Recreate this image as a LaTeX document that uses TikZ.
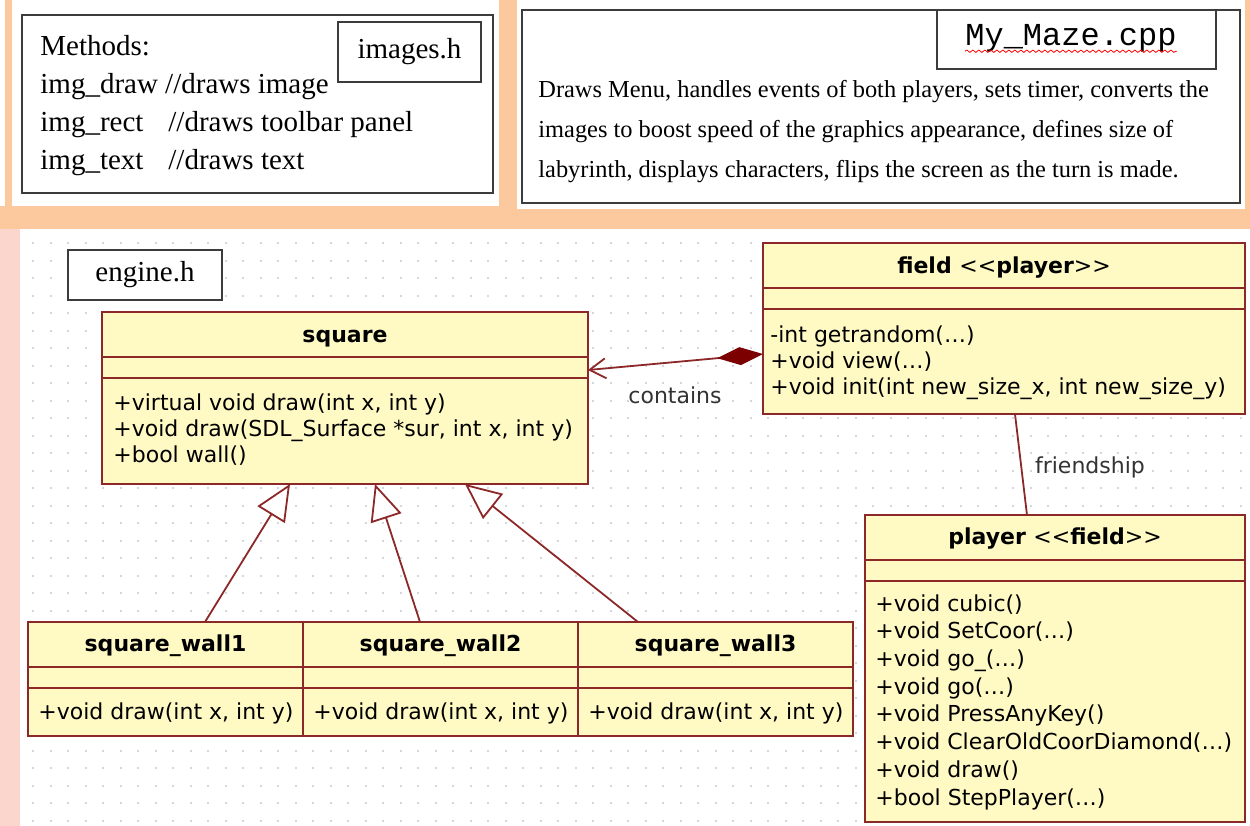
\documentclass[tikz,border=0pt]{standalone}
\usepackage{fontspec}
\setmainfont{Liberation Serif}
\newfontfamily\umlfont{DejaVu Sans}
\newfontfamily\monofont{Liberation Mono}
\usetikzlibrary{positioning,arrows.meta,decorations.pathmorphing}

\definecolor{peach}{RGB}{252,201,158}
\definecolor{pinkstrip}{RGB}{250,214,204}
\definecolor{umlfill}{RGB}{255,250,196}
\definecolor{umledge}{RGB}{140,40,40}
\definecolor{aggrred}{RGB}{125,0,0}
\definecolor{griddot}{RGB}{212,215,222}
\definecolor{panelline}{RGB}{60,60,60}

\tikzset{
  panel/.style={draw=panelline, line width=1.3pt, inner sep=0},
  filebox/.style={draw=panelline, fill=white, line width=1pt, font=\fontsize{14.5}{17}\selectfont},
  umlclass/.style={draw=umledge, fill=umlfill, line width=0.9pt, inner sep=0, outer sep=0},
  umlsep/.style={draw=umledge, line width=0.9pt},
  umltitle/.style={font=\umlfont\bfseries\fontsize{11}{13}\selectfont, inner sep=0},
  umlops/.style={font=\umlfont\fontsize{11}{13.2}\selectfont, align=left, inner sep=0, anchor=north west},
  lbl/.style={font=\umlfont\fontsize{11}{13}\selectfont, text=black!80},
  inherit/.style={draw=umledge, line width=0.9pt, -{Triangle[open, fill=white, length=18pt, width=16pt]}},
  aggr/.style={draw=umledge, line width=0.9pt, {Diamond[fill=aggrred, color=aggrred, length=23pt, width=9pt]}-{Straight Barb[length=8pt, width=10pt]}},
  assoc/.style={draw=umledge, line width=0.9pt},
  squiggle/.style={draw=red, line width=0.4pt, decorate, decoration={snake, amplitude=0.6pt, segment length=3pt}}
}

% header and attribute lines of a class box
\newcommand{\compartments}[1]{%
  \draw[umlsep] ([yshift=-22.5pt]#1.north west) -- ([yshift=-22.5pt]#1.north east);
  \draw[umlsep] ([yshift=-33pt]#1.north west) -- ([yshift=-33pt]#1.north east);}

\begin{document}
\begin{tikzpicture}[x=0.5pt, y=-0.5pt]
  \useasboundingbox (0,0) rectangle (1250,826);

  % background
  \fill[peach] (0,0) rectangle (1250,826);
  \fill[white] (0,0) rectangle (5,206);
  \fill[white] (12,0) rectangle (499,206);
  \fill[white] (517,0) rectangle (1245,209);
  \fill[pinkstrip] (0,229) rectangle (20,826);
  \fill[white] (20,229) rectangle (1250,826);
  \foreach \gx in {32,49.5,...,1245}
    \foreach \gy in {242,259.5,...,826}
      \fill[griddot] (\gx,\gy) rectangle ++(2,2);

  % images.h
  \node[panel, minimum width=235.5pt, minimum height=89pt] (imgpanel) at (257.5,104) {};
  \node[filebox, minimum width=71.5pt, minimum height=30pt] (imagesh) at (409.5,52) {images.h};
  \node[anchor=west, align=left, inner sep=0, font=\fontsize{14.5}{19}\selectfont] (imgmethods) at (40,105.5)
    {Methods:\\ img\_draw //draws image\\ \makebox[64pt][l]{img\_rect}//draws toolbar panel\\ \makebox[64pt][l]{img\_text}//draws text};

  % My_Maze.cpp
  \node[panel, minimum width=359pt, minimum height=96.5pt] (mazepanel) at (881,106.5) {};
  \node[filebox, minimum width=139.5pt, minimum height=29.5pt] (mazehdr) at (1076.5,39.5) {};
  \node[font=\monofont\fontsize{16}{18}\selectfont, inner sep=0] (mazename) at (1071,38) {My\_Maze.cpp};
  \draw[squiggle] ([yshift=-3pt]mazename.base west) -- ([yshift=-3pt]mazename.base east);
  \node[anchor=west, align=left, inner sep=0, font=\fontsize{12.2}{20}\selectfont] (mazetext) at (538,132)
    {Draws Menu, handles events of both players, sets timer, converts the\\
     images to boost speed of the graphics appearance, defines size of\\
     labyrinth, displays characters, flips the screen as the turn is made.};

  % engine.h
  \node[filebox, minimum width=77pt, minimum height=25pt] (engineh) at (145,275) {engine.h};

  % square
  \node[umlclass, minimum width=243pt, minimum height=86pt] (square) at (345,398) {};
  \compartments{square}
  \node[umltitle] (squarename) at ([yshift=-13.5pt]square.north) {square};
  \node[umlops] (squareops) at ([xshift=5.5pt, yshift=-40.5pt]square.north west)
    {+virtual void draw(int x, int y)\\ +void draw(SDL\_Surface *sur, int x, int y)\\ +bool wall()};

  % field
  \node[umlclass, minimum width=241pt, minimum height=85.5pt] (field) at (1004,328.5) {};
  \compartments{field}
  \node[umltitle] (fieldname) at ([yshift=-12.5pt]field.north) {field \mdseries<{}<\bfseries player\mdseries>{}>};
  \node[umlops] (fieldops) at ([xshift=3.5pt, yshift=-41pt]field.north west)
    {-int getrandom(\dots)\\ +void view(\dots)\\ +void init(int new\_size\_x, int new\_size\_y)};

  % player
  \node[umlclass, minimum width=190pt, minimum height=153.5pt] (player) at (1055,668.5) {};
  \compartments{player}
  \node[umltitle] (playername) at ([yshift=-12pt]player.north) {player \mdseries<{}<\bfseries field\mdseries>{}>};
  \node[umlops, font=\umlfont\fontsize{11}{13.85}\selectfont] (playerops) at ([xshift=5pt, yshift=-39.5pt]player.north west)
    {+void cubic()\\ +void SetCoor(\dots)\\ +void go\_(\dots)\\ +void go(\dots)\\ +void PressAnyKey()\\
     +void ClearOldCoorDiamond(\dots)\\ +void draw()\\ +bool StepPlayer(\dots)};

  % square walls
  \node[umlclass, minimum width=137.5pt, minimum height=57pt] (wall1) at (165.5,679) {};
  \node[umlclass, minimum width=137.5pt, minimum height=57pt, right=0pt of wall1] (wall2) {};
  \node[umlclass, minimum width=137.5pt, minimum height=57pt, right=0pt of wall2] (wall3) {};
  \foreach \w in {1,2,3} {
    \compartments{wall\w}
    \node[umltitle] (wall\w name) at ([yshift=-12pt]wall\w.north) {square\_wall\w};
    \node[umlops] (wall\w ops) at ([xshift=5pt, yshift=-40pt]wall\w.north west) {+void draw(int x, int y)};
  }

  % relations
  \draw[inherit] ([xshift=19.75pt]wall1.north) -- ([xshift=-27.5pt]square.south);
  \draw[inherit] ([xshift=-10.25pt]wall2.north) -- ([xshift=15pt]square.south);
  \draw[inherit] ([xshift=-38.75pt]wall3.north) -- ([xshift=60pt]square.south);
  \draw[aggr] ([yshift=-12.75pt]field.west) -- ([yshift=14pt]square.east);
  \draw[assoc] ([xshift=5.5pt]field.south) -- ([xshift=-14pt]player.north);
  \node[lbl] (containslbl) at (675,395) {contains};
  \node[lbl] (friendlbl) at (1090,467) {friendship};
\end{tikzpicture}
\end{document}
